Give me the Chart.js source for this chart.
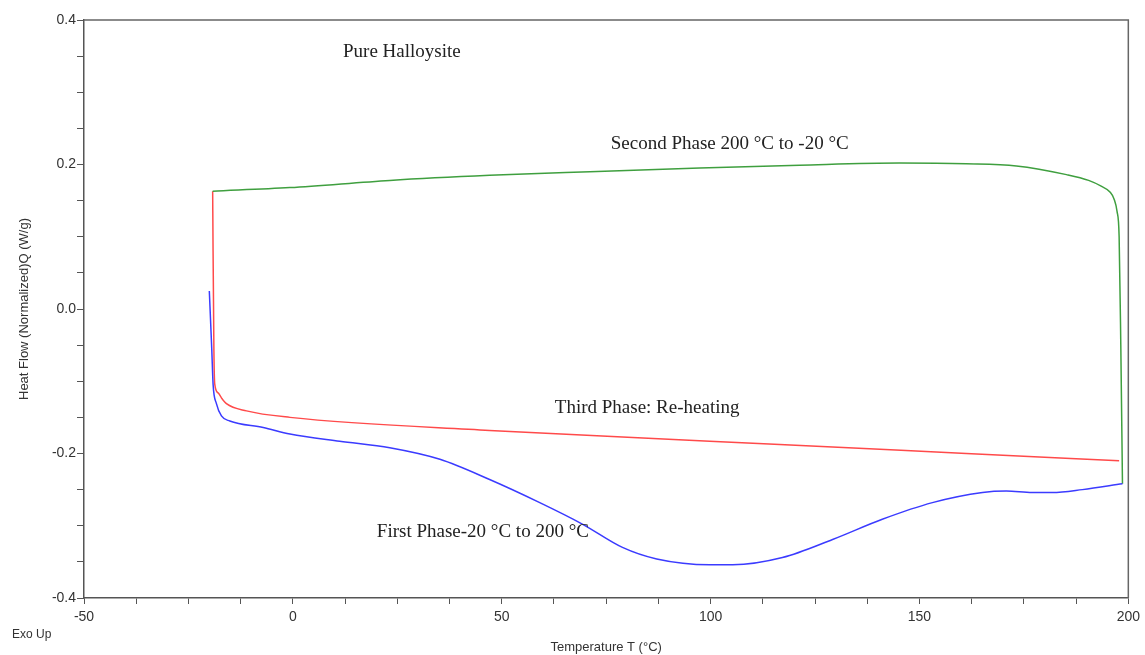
<!DOCTYPE html>
<html>
<head>
<meta charset="utf-8">
<title>Pure Halloysite DSC</title>
<script src="https://cdn.jsdelivr.net/npm/chart.js@4.4.1/dist/chart.umd.min.js"></script>
<style>
  html, body { margin: 0; padding: 0; background: #fff; }
  #wrap { width: 1145px; height: 655px; position: relative; }
</style>
</head>
<body>
<div id="wrap"><canvas id="dsc" width="1145" height="655"></canvas></div>
<script>
// ---- values (temperature in °C, heat flow in W/g) ----
const firstPhaseT = [-20.0, -19.4, -19.1, -18.3, -17.1, -15.1, -7.1, -0.7, 11.2, 23.2, 35.2, 47.1,
  59.1, 69.4, 78.9, 87.1, 99.8, 105.3, 117.2, 129.2, 141.1, 153.1, 165.1, 170.8, 177.0, 181.8, 189.0, 198.6];
const firstPhaseQ = [0.025, -0.058, -0.104, -0.131, -0.148, -0.155, -0.164, -0.173, -0.183, -0.192, -0.208, -0.236,
  -0.268, -0.298, -0.330, -0.346, -0.354, -0.354, -0.344, -0.319, -0.291, -0.268, -0.254, -0.252, -0.254, -0.254, -0.250, -0.242];

const secondPhaseT = [198.6, 198.2, 197.8, 197.3, 196.6, 195.6, 193.5, 190.5, 185.2, 173.2, 161.2, 145.2,
  121.3, 97.4, 71.1, 47.1, 23.2, -0.7, -19.2];
const secondPhaseQ = [-0.242, -0.050, 0.100, 0.135, 0.152, 0.162, 0.170, 0.178, 0.186, 0.198, 0.201, 0.202,
  0.199, 0.195, 0.190, 0.185, 0.178, 0.168, 0.163];

const thirdPhaseT = [-19.2, -19.1, -19.0, -18.9, -18.7, -17.9, -17.1, -15.9, -11.1, -0.7, 47.1, 99.8, 129.2, 161.2, 197.8];
const thirdPhaseQ = [0.163, 0.080, 0.011, -0.058, -0.104, -0.116, -0.123, -0.131, -0.141, -0.150, -0.168, -0.183, -0.191, -0.200, -0.210];

const xTickLabels = [-50, 0, 50, 100, 150, 200];
const yTickLabels = [-0.4, -0.2, 0.0, 0.2, 0.4];

const notes = [
  { text: "Pure Halloysite", x: 12.0, y: 0.356 },
  { text: "Second Phase 200 °C to -20 °C", x: 76.1, y: 0.228 },
  { text: "Third Phase: Re-heating", x: 62.7, y: -0.137 },
  { text: "First Phase-20 °C to 200 °C", x: 20.1, y: -0.309 },
];

function toPoints(xs, ys) {
  return xs.map((x, i) => ({ x: x, y: ys[i] }));
}

const axisColor = "#555";
const textColor = "#333";
const sans = '"Liberation Sans", Arial, sans-serif';

// draws the box on top/right, the phase notes and "Exo Up"
const overlay = {
  id: "overlay",
  afterDraw(chart) {
    const { ctx, chartArea: a, scales } = chart;
    ctx.save();
    ctx.strokeStyle = "#666";
    ctx.lineWidth = 1.5;
    ctx.beginPath();
    ctx.moveTo(a.left, a.top);
    ctx.lineTo(a.right, a.top);
    ctx.lineTo(a.right, a.bottom);
    ctx.stroke();

    ctx.fillStyle = "#222";
    ctx.font = '19px "Liberation Serif", "Times New Roman", serif';
    ctx.textBaseline = "middle";
    ctx.textAlign = "left";
    notes.forEach(n => {
      ctx.fillText(n.text, scales.x.getPixelForValue(n.x), scales.y.getPixelForValue(n.y));
    });

    ctx.fillStyle = textColor;
    ctx.font = "12px " + sans;
    ctx.fillText("Exo Up", 12, 635);
    ctx.restore();
  }
};

const lineStyle = { pointRadius: 0, borderWidth: 1.5, cubicInterpolationMode: "monotone", fill: false, showLine: true };

new Chart(document.getElementById("dsc"), {
  type: "line",
  data: {
    datasets: [
      { label: "First Phase", data: toPoints(firstPhaseT, firstPhaseQ), borderColor: "#3b3bff", ...lineStyle },
      { label: "Second Phase", data: toPoints(secondPhaseT, secondPhaseQ), borderColor: "#3f9f3f", ...lineStyle },
      { label: "Third Phase", data: toPoints(thirdPhaseT, thirdPhaseQ), borderColor: "#ff4a4a", ...lineStyle },
    ],
  },
  options: {
    responsive: false,
    animation: false,
    layout: { padding: { top: 20, right: 16, left: 0, bottom: 0 } },
    plugins: { legend: { display: false }, tooltip: { enabled: false } },
    scales: {
      x: {
        type: "linear",
        min: -50,
        max: 200,
        afterFit: s => { s.height = 57; },
        border: { color: axisColor, width: 1.5 },
        grid: { drawOnChartArea: false, drawTicks: true, tickLength: 6, tickColor: axisColor },
        ticks: {
          stepSize: 12.5,
          autoSkip: false,
          maxRotation: 0,
          padding: 5,
          color: textColor,
          font: { family: sans, size: 14 },
          callback: v => xTickLabels.includes(v) ? String(v) : "",
        },
        title: {
          display: true,
          text: "Temperature T (°C)",
          color: textColor,
          font: { family: sans, size: 13 },
          padding: { top: 2, bottom: 0 },
        },
      },
      y: {
        type: "linear",
        min: -0.4,
        max: 0.4,
        afterFit: s => { s.width = 84; },
        border: { color: axisColor, width: 1.5 },
        grid: { drawOnChartArea: false, drawTicks: true, tickLength: 7, tickColor: axisColor },
        ticks: {
          stepSize: 0.05,
          autoSkip: false,
          padding: 1,
          color: textColor,
          font: { family: sans, size: 14 },
          callback: v => {
            const hit = yTickLabels.find(t => Math.abs(t - v) < 1e-6);
            return hit === undefined ? "" : hit.toFixed(1);
          },
        },
        title: {
          display: true,
          text: "Heat Flow (Normalized)Q (W/g)",
          color: textColor,
          font: { family: sans, size: 13 },
          padding: { top: 17, bottom: 0 },
        },
      },
    },
  },
  plugins: [overlay],
});
</script>
</body>
</html>
